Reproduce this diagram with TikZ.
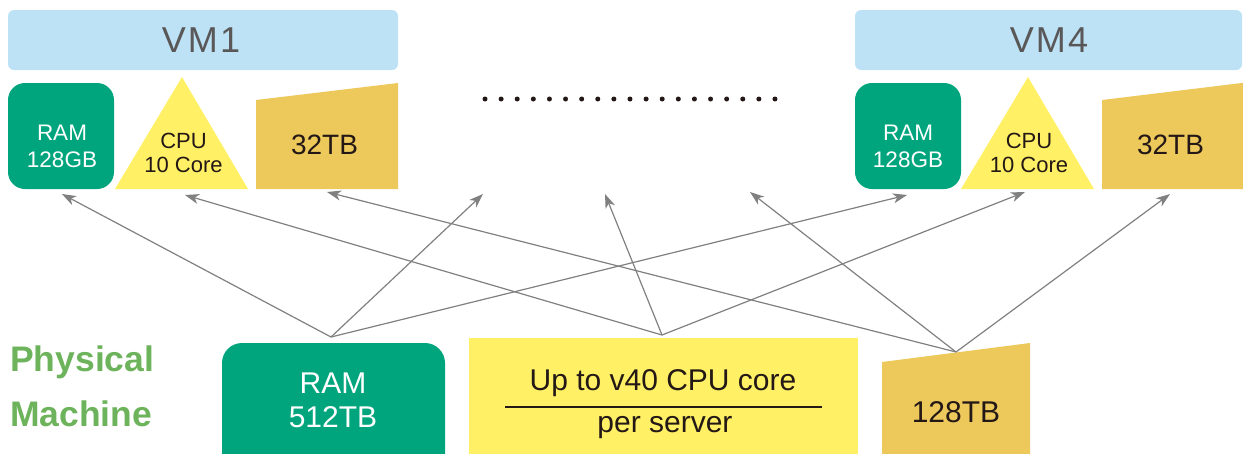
\documentclass[tikz,border=0pt]{standalone}
\usepackage{fontspec}
\setmainfont{Liberation Sans}
\usetikzlibrary{arrows.meta}
\definecolor{vmblue}{HTML}{BDE2F5}
\definecolor{ramgreen}{HTML}{00A57E}
\definecolor{cpuyellow}{HTML}{FFF066}
\definecolor{diskgold}{HTML}{EDC95C}
\definecolor{vmtext}{HTML}{595757}
\definecolor{inkblack}{HTML}{231815}
\definecolor{arrowgray}{HTML}{808080}
\definecolor{pmgreen}{HTML}{6CB35B}
\tikzset{
  vmbar/.style={fill=vmblue, rounded corners=6pt},
  rambox/.style={fill=ramgreen, rounded corners=17pt},
  cpushape/.style={fill=cpuyellow},
  diskshape/.style={fill=diskgold},
  lbl/.style={inner sep=0pt, anchor=base, text=inkblack},
  wlbl/.style={inner sep=0pt, anchor=base, text=white},
  vmlbl/.style={inner sep=0pt, anchor=base, text=vmtext, font=\fontsize{36}{40}\selectfont\addfontfeatures{LetterSpace=6}},
  small/.style={font=\fontsize{22.5}{26}\selectfont},
  cpusmall/.style={font=\fontsize{22}{26}\selectfont},
  disklbl/.style={font=\fontsize{28}{32}\selectfont},
  big/.style={font=\fontsize{30}{34}\selectfont},
  pmlbl/.style={inner sep=0pt, anchor=base west, text=pmgreen, font=\fontsize{35.5}{40}\selectfont\bfseries},
  arr/.style={draw=arrowgray, line width=1.2pt, -{Stealth[length=14pt,width=10pt,inset=4pt]}},
  dot/.style={circle, fill=inkblack, inner sep=0pt, minimum size=5pt}
}
\begin{document}
\begin{tikzpicture}[x=1pt,y=-1pt]
\useasboundingbox (0,0) rectangle (1243,453);
\begin{scope}
\clip (0,0) rectangle (1243,453);
% ---------- VM1 ----------
\fill[vmbar] (8,10) rectangle (398,70);
\node[vmlbl] (vmonet) at (201,52) {VM1};
\fill[rambox] (8,83) rectangle (114,189);
\node[wlbl, small] (vmoneramA) at (62,140) {RAM};
\node[wlbl, small] (vmoneramB) at (62,167) {128GB};
\fill[cpushape] (182,77) -- (248,189) -- (115,189) -- cycle;
\node[lbl, cpusmall] (vmonecpuA) at (183.5,148) {CPU};
\node[lbl, cpusmall] (vmonecpuB) at (183.5,172) {10 Core};
\fill[diskshape] (256,100) -- (398,83) -- (398,189) -- (256,189) -- cycle;
\node[lbl, disklbl] (vmonedisk) at (324.5,154) {32TB};
% ---------- VM4 ----------
\fill[vmbar] (855,10) rectangle (1242,70);
\node[vmlbl] (vmfourt) at (1049,52) {VM4};
\fill[rambox] (855,83) rectangle (961,189);
\node[wlbl, small] (vmfourramA) at (908,140) {RAM};
\node[wlbl, small] (vmfourramB) at (908,167) {128GB};
\fill[cpushape] (1028,77) -- (1094,189) -- (961,189) -- cycle;
\node[lbl, cpusmall] (vmfourcpuA) at (1029,148) {CPU};
\node[lbl, cpusmall] (vmfourcpuB) at (1029,172) {10 Core};
\fill[diskshape] (1102,100) -- (1250,82) -- (1250,189) -- (1102,189) -- cycle;
\node[lbl, disklbl] (vmfourdisk) at (1170.5,154) {32TB};
% ---------- dots ----------
\foreach \i in {0,...,18} {
  \node[dot] (d\i) at ({485+\i*16.11},99) {};
}
% ---------- Physical machine ----------
\node[pmlbl] (pmA) at (10,371) {Physical};
\node[pmlbl] (pmB) at (10,426) {Machine};
\fill[ramgreen, rounded corners=20pt] (222,343) rectangle (445,475);
\node[wlbl, big] (pramA) at (333,393) {RAM};
\node[wlbl, big] (pramB) at (333,427) {512TB};
\fill[cpushape] (469,338) rectangle (858,470);
\node[lbl, big] (pcpuA) at (663,390) {Up to v40 CPU core};
\draw[inkblack, line width=2pt] (505,407) -- (822,407);
\node[lbl, big] (pcpuB) at (665,432) {per server};
\fill[diskshape] (882,362) -- (1030,343) -- (1030,470) -- (882,470) -- cycle;
\node[lbl, big] (pdisk) at (956,422) {128TB};
% ---------- connectors ----------
\coordinate (ramsrc) at (331,337);
\coordinate (cpusrc) at (662,335);
\coordinate (disksrc) at (956,352);
\coordinate (tramone) at (62,194);
\coordinate (tcpuone) at (185,195);
\coordinate (tdiskone) at (327,192);
\coordinate (trammid) at (483,194);
\coordinate (tcpumid) at (605,194);
\coordinate (tdiskmid) at (750,192);
\coordinate (tramfour) at (907,195);
\coordinate (tcpufour) at (1025,192);
\coordinate (tdiskfour) at (1170,194);
\draw[arr] (ramsrc) -- (tramone);
\draw[arr] (ramsrc) -- (trammid);
\draw[arr] (ramsrc) -- (tramfour);
\draw[arr] (cpusrc) -- (tcpuone);
\draw[arr] (cpusrc) -- (tcpumid);
\draw[arr] (cpusrc) -- (tcpufour);
\draw[arr] (disksrc) -- (tdiskone);
\draw[arr] (disksrc) -- (tdiskmid);
\draw[arr] (disksrc) -- (tdiskfour);
\end{scope}
\end{tikzpicture}
\end{document}
